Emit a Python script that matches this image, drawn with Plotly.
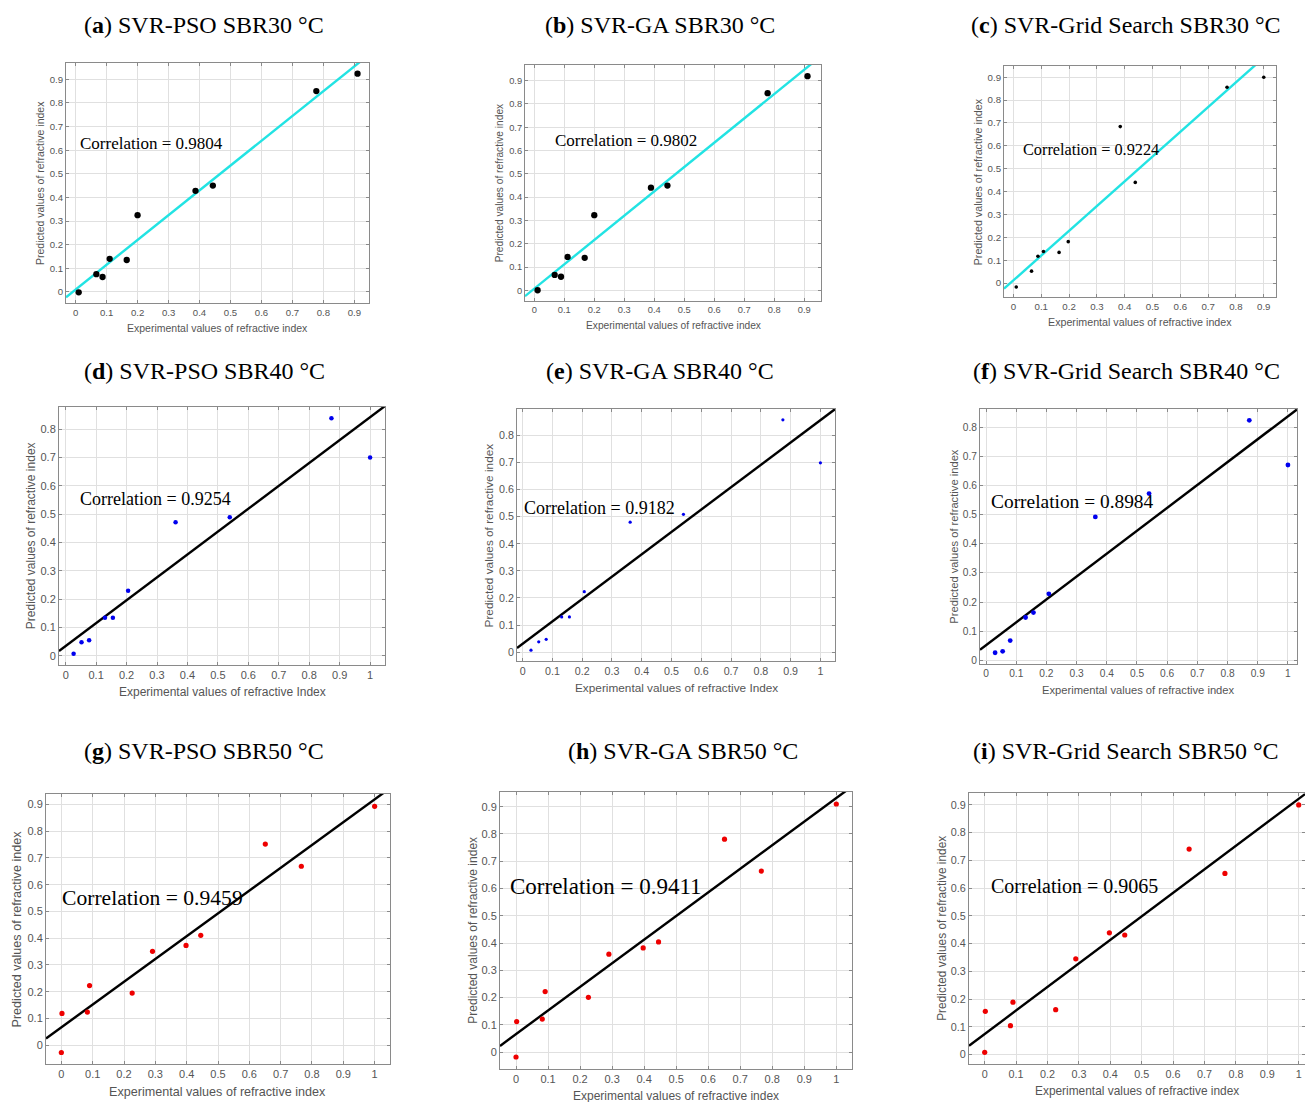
import plotly.graph_objects as go

PAGE_W, PAGE_H = 1305, 1102
W, H = PAGE_W, PAGE_H

# ---------------- data ----------------
# Row 1: SBR30 °C
a_x = [0.010, 0.067, 0.087, 0.110, 0.165, 0.200, 0.387, 0.443, 0.777, 0.910]
a_y = [-0.002, 0.075, 0.063, 0.140, 0.135, 0.325, 0.428, 0.450, 0.850, 0.924]
b_x = [0.011, 0.068, 0.089, 0.111, 0.168, 0.200, 0.389, 0.444, 0.778, 0.911]
b_y = [0.001, 0.067, 0.059, 0.144, 0.140, 0.323, 0.441, 0.450, 0.846, 0.919]
c_x = [0.010, 0.065, 0.088, 0.108, 0.164, 0.197, 0.384, 0.438, 0.768, 0.900]
c_y = [-0.017, 0.052, 0.117, 0.138, 0.134, 0.181, 0.684, 0.440, 0.856, 0.900]
# Row 2: SBR40 °C
d_x = [0.026, 0.052, 0.077, 0.129, 0.155, 0.205, 0.361, 0.539, 0.873, 1.000]
d_y = [0.007, 0.047, 0.054, 0.134, 0.134, 0.229, 0.471, 0.489, 0.838, 0.700]
e_x = [0.028, 0.054, 0.079, 0.131, 0.157, 0.207, 0.361, 0.540, 0.874, 1.000]
e_y = [0.007, 0.038, 0.047, 0.130, 0.130, 0.223, 0.480, 0.509, 0.858, 0.699]
f_x = [0.030, 0.055, 0.080, 0.131, 0.157, 0.208, 0.362, 0.540, 0.872, 1.000]
f_y = [0.026, 0.031, 0.068, 0.147, 0.164, 0.228, 0.492, 0.572, 0.823, 0.670]
# Row 3: SBR50 °C
g_x = [0.000, 0.002, 0.083, 0.090, 0.226, 0.291, 0.398, 0.445, 0.651, 0.766, 1.000]
g_y = [-0.027, 0.119, 0.124, 0.223, 0.195, 0.351, 0.373, 0.411, 0.752, 0.669, 0.893]
h_x = [0.000, 0.002, 0.082, 0.091, 0.226, 0.290, 0.397, 0.445, 0.651, 0.766, 1.000]
h_y = [-0.018, 0.112, 0.121, 0.222, 0.201, 0.359, 0.382, 0.404, 0.781, 0.664, 0.910]
i_x = [0.000, 0.002, 0.082, 0.090, 0.226, 0.290, 0.397, 0.446, 0.651, 0.765, 1.000]
i_y = [0.008, 0.156, 0.104, 0.189, 0.162, 0.345, 0.439, 0.431, 0.741, 0.653, 0.900]

# fitted line (slope, intercept) per panel
fit_slope = [1.050, 1.043, 1.082, 0.808, 0.826, 0.785, 0.852, 0.866, 0.848]
fit_icept = [0.010, 0.008, 0.012, 0.034, 0.031, 0.052, 0.067, 0.066, 0.074]

correlations = ["0.9804", "0.9802", "0.9224", "0.9254", "0.9182", "0.8984", "0.9459", "0.9411", "0.9065"]
panel_letters = ["a", "b", "c", "d", "e", "f", "g", "h", "i"]
panel_titles = ["SVR-PSO SBR30 °C", "SVR-GA SBR30 °C", "SVR-Grid Search SBR30 °C",
                "SVR-PSO SBR40 °C", "SVR-GA SBR40 °C", "SVR-Grid Search SBR40 °C",
                "SVR-PSO SBR50 °C", "SVR-GA SBR50 °C", "SVR-Grid Search SBR50 °C"]
x_titles = ["Experimental values of refractive index"] * 3 + \
           ["Experimental values of refractive Index", "Experimental values of refractive Index",
            "Experimental values of refractive index"] + \
           ["Experimental values of refractive index"] * 3
y_title = "Predicted values of refractive index"

ticks09 = [0, 0.1, 0.2, 0.3, 0.4, 0.5, 0.6, 0.7, 0.8, 0.9]
ticks09_text = ["0", "0.1", "0.2", "0.3", "0.4", "0.5", "0.6", "0.7", "0.8", "0.9"]
ticks10 = [0, 0.1, 0.2, 0.3, 0.4, 0.5, 0.6, 0.7, 0.8, 0.9, 1.0]
ticks10_text = ["0", "0.1", "0.2", "0.3", "0.4", "0.5", "0.6", "0.7", "0.8", "0.9", "1"]
ticks08 = [0, 0.1, 0.2, 0.3, 0.4, 0.5, 0.6, 0.7, 0.8]
ticks08_text = ["0", "0.1", "0.2", "0.3", "0.4", "0.5", "0.6", "0.7", "0.8"]

xs = [a_x, b_x, c_x, d_x, e_x, f_x, g_x, h_x, i_x]
ys = [a_y, b_y, c_y, d_y, e_y, f_y, g_y, h_y, i_y]

# ---------------- layout / style per panel ----------------
# pixel box on the page (left, right, top, bottom), axis ranges, styles
panels = [
    dict(box=(66, 369, 63, 303), xr=(-0.031, 0.947), yr=(-0.047, 0.969), xt=(ticks09, ticks09_text), yt=(ticks09, ticks09_text),
         mc="black", ms=6.3, lc="#22e3e3", corr=(0.008, 0.630, 17), tf=9.6, af=10.5, title_c=(204, 25)),
    dict(box=(525, 821, 65, 301), xr=(-0.031, 0.956), yr=(-0.045, 0.967), xt=(ticks09, ticks09_text), yt=(ticks09, ticks09_text),
         mc="black", ms=6.3, lc="#22e3e3", corr=(0.061, 0.644, 17), tf=9.3, af=10.2, title_c=(660, 25)),
    dict(box=(1004, 1276, 66, 297), xr=(-0.034, 0.944), yr=(-0.061, 0.949), xt=(ticks09, ticks09_text), yt=(ticks09, ticks09_text),
         mc="black", ms=3.6, lc="#22e3e3", corr=(0.028, 0.583, 16.3), tf=9.7, af=10.7, title_c=(1126, 25)),
    dict(box=(59, 385, 407, 665), xr=(-0.022, 1.049), yr=(-0.033, 0.878), xt=(ticks10, ticks10_text), yt=(ticks08, ticks08_text),
         mc="#0000ee", ms=4.5, lc="black", corr=(0.040, 0.554, 18), tf=11, af=12, title_c=(204, 371)),
    dict(box=(517, 835, 409, 661), xr=(-0.019, 1.049), yr=(-0.033, 0.898), xt=(ticks10, ticks10_text), yt=(ticks08, ticks08_text),
         mc="#0000ee", ms=3.2, lc="black", corr=(-0.002, 0.531, 18), tf=10.7, af=11.8, title_c=(660, 371)),
    dict(box=(980, 1297, 409, 664), xr=(-0.020, 1.030), yr=(-0.0125, 0.862), xt=(ticks10, ticks10_text), yt=(ticks08, ticks08_text),
         mc="#0000ee", ms=4.8, lc="black", corr=(0.011, 0.544, 19.4), tf=10.2, af=11.2, title_c=(1126, 371)),
    dict(box=(46, 390, 794, 1064), xr=(-0.049, 1.049), yr=(-0.070, 0.939), xt=(ticks10, ticks10_text), yt=(ticks09, ticks09_text),
         mc="#ee0000", ms=5.2, lc="black", corr=(-0.004, 0.549, 21.6), tf=11, af=12.6, title_c=(204, 751)),
    dict(box=(500, 852, 792, 1069), xr=(-0.050, 1.049), yr=(-0.062, 0.954), xt=(ticks10, ticks10_text), yt=(ticks09, ticks09_text),
         mc="#ee0000", ms=5.2, lc="black", corr=(-0.026, 0.607, 23), tf=11, af=12, title_c=(683, 751)),
    dict(box=(969, 1305, 793, 1064), xr=(-0.050, 1.020), yr=(-0.034, 0.943), xt=(ticks10, ticks10_text), yt=(ticks09, ticks09_text),
         mc="#ee0000", ms=5.2, lc="black", corr=(0.013, 0.608, 20), tf=10.8, af=11.9, title_c=(1126, 751)),
]


def px(xp):
    return min(max(xp / W, 0.0), 1.0)


def py(yp):
    return min(max(1 - yp / H, 0.0), 1.0)


fig = go.Figure()
annotations = []
SERIF = "Liberation Serif, Times New Roman, serif"
SANS = "Liberation Sans, Arial, sans-serif"
LABEL_COLOR = "#555555"

for k, p in enumerate(panels):
    n = "" if k == 0 else str(k + 1)
    xa, ya = "x" + n, "y" + n
    l, r, t, b = p["box"]
    x0, x1 = p["xr"]

    # fitted line over the full x range (clipped by the axes)
    fx = [x0, x1]
    fy = [fit_slope[k] * v + fit_icept[k] for v in fx]
    fig.add_trace(go.Scatter(x=fx, y=fy, mode="lines", xaxis=xa, yaxis=ya,
                             line=dict(color=p["lc"], width=2.4), showlegend=False, hoverinfo="skip"))
    fig.add_trace(go.Scatter(x=xs[k], y=ys[k], mode="markers", xaxis=xa, yaxis=ya,
                             marker=dict(color=p["mc"], size=p["ms"], line=dict(width=0)),
                             showlegend=False, cliponaxis=False))

    common = dict(showgrid=True, gridcolor="#e0e0e0", gridwidth=1, zeroline=False,
                  showline=True, linecolor="#8a8a8a", linewidth=1, mirror="ticks",
                  ticks="inside", ticklen=3, tickcolor="#8a8a8a", automargin=False,
                  ticklabeloverflow="allow",
                  tickfont=dict(family=SANS, size=p["tf"], color=LABEL_COLOR))
    xkey = "xaxis" + n
    ykey = "yaxis" + n
    fig.update_layout(**{
        xkey: dict(common, domain=[px(l), px(r)], range=list(p["xr"]), anchor=ya,
                   tickvals=p["xt"][0], ticktext=p["xt"][1]),
        ykey: dict(common, domain=[py(b), py(t)], range=list(p["yr"]), anchor=xa,
                   tickvals=p["yt"][0], ticktext=p["yt"][1]),
    })

    # correlation text
    cx, cy, cs = p["corr"]
    annotations.append(dict(x=cx, y=cy, xref=xa, yref=ya, xanchor="left", yanchor="middle",
                            text="Correlation = " + correlations[k], showarrow=False,
                            font=dict(family=SERIF, size=cs, color="black")))
    # axis titles
    annotations.append(dict(x=px((l + min(r, PAGE_W)) / 2), y=py(b + 25 + (p["af"] - 10.5) * 1.5),
                            xref="paper", yref="paper", xanchor="center", yanchor="middle",
                            text=x_titles[k], showarrow=False,
                            font=dict(family=SANS, size=p["af"], color=LABEL_COLOR)))
    annotations.append(dict(x=px(l - 26 - (p["af"] - 10.5) * 1.2), y=py((t + b) / 2),
                            xref="paper", yref="paper", xanchor="center", yanchor="middle",
                            text=y_title, textangle=-90, showarrow=False,
                            font=dict(family=SANS, size=p["af"], color=LABEL_COLOR)))
    # panel title
    tx, ty = p["title_c"]
    annotations.append(dict(x=px(tx), y=py(ty), xref="paper", yref="paper",
                            xanchor="center", yanchor="middle",
                            text="(<b>" + panel_letters[k] + "</b>) " + panel_titles[k], showarrow=False,
                            font=dict(family=SERIF, size=24, color="black")))

fig.update_layout(width=W, height=H, autosize=False, margin=dict(l=0, r=0, t=0, b=0),
                  paper_bgcolor="white", plot_bgcolor="white", template="none",
                  hovermode=False, annotations=annotations)

# remove the default page margin so the figure fills the 1305x1102 window exactly
fig.write_html("out.html", config={"displayModeBar": False, "staticPlot": True},
               post_script="document.body.style.margin='0';document.body.style.overflow='hidden';")
